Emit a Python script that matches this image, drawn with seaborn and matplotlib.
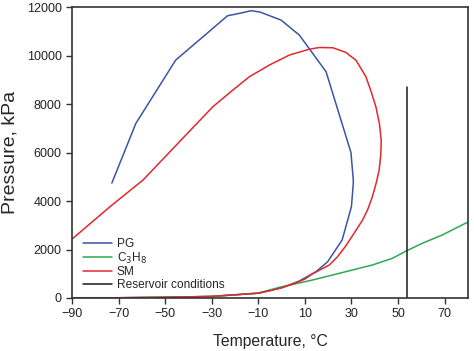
import numpy as np
import pandas as pd
import seaborn as sns
import matplotlib.pyplot as plt

# data (temperature degC, pressure kPa)
pg_temp = [-90, -70, -50, -30, -10, 0, 7.6, 14.8, 19.8, 26.0, 30.0, 30.8, 30.8, 29.8, 19.1,
           7.6, -0.2, -9.2, -13, -18, -23.2, -45.5, -62.6, -72.9]
pg_pres = [0, 10, 30, 65, 200, 420, 700, 1086, 1497, 2392, 3766, 4730, 4870, 6000, 9333,
           10845, 11460, 11790, 11850, 11740, 11640, 9810, 7200, 4740]

c3h8_temp = [-90, -70, -50, -30, -10, -0.9, 7.6, 13.3, 27.6, 39, 47.6, 53.8, 60.4, 69, 80]
c3h8_pres = [0, 10, 30, 65, 200, 441, 620, 742, 1086, 1361, 1636, 1952, 2254, 2598, 3130]

sm_temp = [-90, -70, -50, -30, -20, -10, -5, 0, 5, 10, 13.3, 20.5, 24, 27.6, 31, 34.8,
           37.0, 39, 40.8, 41.9, 42.6, 42.8, 42, 40.5, 38.5, 36.2, 32, 27.6, 22, 16.2,
           11.9, 3.4, -5.2, -13.8, -20.9, -29.5, -45.2, -59.5, -73.7, -90]
sm_pres = [0, 10, 30, 65, 130, 200, 300, 420, 580, 780, 1000, 1360, 1700, 2150, 2650, 3216,
           3650, 4180, 4800, 5278, 5900, 6500, 7200, 7890, 8500, 9130, 9800, 10130, 10320, 10330,
           10260, 10021, 9608, 9127, 8577, 7889, 6309, 4866, 3765, 2430]

res_temp = [54, 54]
res_pres = [0, 8700]

series = [
    ("PG", pg_temp, pg_pres, "#3b55a5"),
    ("C$_3$H$_8$", c3h8_temp, c3h8_pres, "#2ea84f"),
    ("SM", sm_temp, sm_pres, "#e0282e"),
    ("Reservoir conditions", res_temp, res_pres, "#1a1a1a"),
]

sns.set_style("ticks")
plt.rcParams['font.family'] = ['Liberation Sans', 'DejaVu Sans']

fig = plt.figure(figsize=(4.74, 3.51), dpi=100)
ax = fig.add_axes([0.152, 0.151, 0.835, 0.829])

for name, t, p, col in series:
    df = pd.DataFrame({"T": t, "P": p})
    sns.lineplot(data=df, x="T", y="P", sort=False, estimator=None, color=col,
                 linewidth=1.1, label=name, ax=ax)

ax.set_xlim(-90, 80)
ax.set_ylim(0, 12000)
ax.set_xticks(np.arange(-90, 80, 20))
ax.set_xticklabels([f"\u2212{abs(v)}" if v < 0 else str(v) for v in range(-90, 80, 20)])
ax.set_yticks(np.arange(0, 12001, 2000))
ax.tick_params(labelsize=9, length=4, width=1, color="#333333", labelcolor="#222222")
ax.set_xlabel("Temperature, \u00b0C", fontsize=11.3, labelpad=10)
ax.set_ylabel("Pressure, kPa", fontsize=14, labelpad=6)
for s in ax.spines.values():
    s.set_visible(True)
    s.set_linewidth(1.2)
    s.set_color("#333333")

ax.legend(loc="lower left", bbox_to_anchor=(0.01, 0.0), frameon=False, fontsize=8.6,
          handlelength=2.4, handletextpad=0.4, labelspacing=0.05, borderaxespad=0.2)

fig.savefig("out.png", dpi=100)
